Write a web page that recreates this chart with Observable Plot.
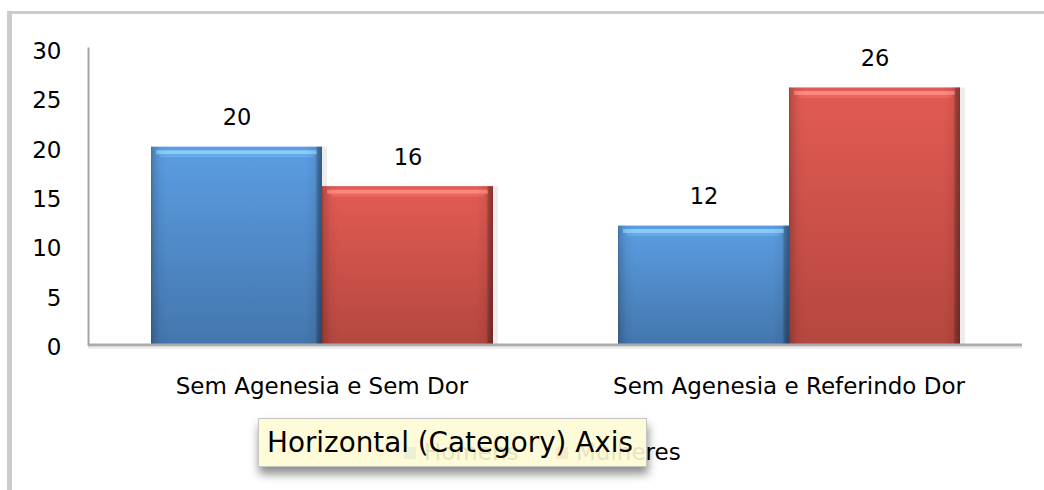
<!DOCTYPE html>
<html>
<head>
<meta charset="utf-8">
<script src="https://cdn.jsdelivr.net/npm/d3@7"></script>
<script src="https://cdn.jsdelivr.net/npm/@observablehq/plot@0.6"></script>
<style>
  html, body { margin: 0; padding: 0; background: #fff; }
  #wrap { position: relative; width: 1044px; height: 490px; overflow: hidden; font-family: "DejaVu Sans", sans-serif; }
  #frame { position: absolute; left: 7px; top: 11px; right: -10px; bottom: -10px; border-top: 3px solid #cccccc; border-left: 5px solid #cccccc; }
  #chart { position: absolute; left: 0; top: 0; }
  #legend { position: absolute; left: 0; top: 439px; width: 1044px; font-size: 23px; color: #000; }
  .item { position: absolute; top: 0; white-space: nowrap; }
  .sw { display: inline-block; width: 12px; height: 12px; margin-right: 8px; vertical-align: 1px; }
  #tip { position: absolute; left: 258px; top: 418px; width: 389px; height: 49px; background: rgba(254,252,212,0.9);
         border: 1px solid #c4c4c4; box-shadow: 1px 7px 9px rgba(0,0,0,0.45); font-size: 27.8px; color: #000;
         box-sizing: border-box; padding-left: 8px; line-height: 47px; white-space: nowrap; }
</style>
</head>
<body>
<div id="wrap">
  <div id="frame"></div>
  <div id="chart"></div>
  <div id="legend"></div>
  <div id="tip">Horizontal (Category) Axis</div>
</div>
<script>
const categories = ["Sem Agenesia e Sem Dor", "Sem Agenesia e Referindo Dor"];
const series = ["Homens", "Mulheres"];
const homens = [20, 12];
const mulheres = [16, 26];
const yTicks = [0, 5, 10, 15, 20, 25, 30];
const colors = { Homens: "#4f8bcf", Mulheres: "#d3524b" };

const data = categories.flatMap((c, i) => [
  { cat: c, sex: series[0], value: homens[i] },
  { cat: c, sex: series[1], value: mulheres[i] }
]);
const dH = data.filter(d => d.sex === "Homens");
const dM = data.filter(d => d.sex === "Mulheres");

const defs = () => {
  const ns = "http://www.w3.org/2000/svg";
  const g = document.createElementNS(ns, "defs");
  g.innerHTML = `
    <linearGradient id="gBlue" x1="0" y1="0" x2="0" y2="1">
      <stop offset="0" stop-color="#5b9ee3"/>
      <stop offset="1" stop-color="#4476ad"/>
    </linearGradient>
    <linearGradient id="gRed" x1="0" y1="0" x2="0" y2="1">
      <stop offset="0" stop-color="#e35b53"/>
      <stop offset="1" stop-color="#b5473f"/>
    </linearGradient>
    <linearGradient id="gEdge" x1="0" y1="0" x2="1" y2="0">
      <stop offset="0" stop-color="#000" stop-opacity="0.28"/>
      <stop offset="0.012" stop-color="#000" stop-opacity="0.16"/>
      <stop offset="0.05" stop-color="#000" stop-opacity="0.04"/>
      <stop offset="0.1" stop-color="#000" stop-opacity="0"/>
      <stop offset="0.9" stop-color="#000" stop-opacity="0"/>
      <stop offset="0.96" stop-color="#000" stop-opacity="0.06"/>
      <stop offset="0.975" stop-color="#000" stop-opacity="0.3"/>
      <stop offset="1" stop-color="#000" stop-opacity="0.42"/>
    </linearGradient>`;
  return g;
};

const plot = Plot.plot({
  width: 1044,
  height: 490,
  marginLeft: 87,
  marginRight: 22,
  marginTop: 48,
  marginBottom: 146,
  style: { fontFamily: "DejaVu Sans, sans-serif", fontSize: "22px", color: "#000", background: "transparent", overflow: "visible" },
  fx: { domain: categories, padding: 0, label: null },
  x: { domain: series, paddingInner: 0, paddingOuter: 0.365, axis: null },
  y: { domain: [0, 30], label: null },
  marks: [
    defs,
    Plot.barY(data, { fx: "cat", x: "sex", y: "value", fill: "#000", fillOpacity: 0.07, dx: 5 }),
    Plot.barY(dH, { fx: "cat", x: "sex", y: "value", fill: "url(#gBlue)" }),
    Plot.barY(dM, { fx: "cat", x: "sex", y: "value", fill: "url(#gRed)" }),
    Plot.tickY(dH, { fx: "cat", x: "sex", y: "value", stroke: "#8fd0fa", strokeWidth: 4, dy: 5, inset: 5, strokeOpacity: 0.9 }),
    Plot.tickY(dM, { fx: "cat", x: "sex", y: "value", stroke: "#ff8d86", strokeWidth: 4, dy: 5, inset: 5, strokeOpacity: 0.9 }),
    Plot.tickY(dH, { fx: "cat", x: "sex", y: "value", stroke: "#70b2ee", strokeWidth: 3, dy: 8.5, inset: 9, strokeOpacity: 0.6 }),
    Plot.tickY(dM, { fx: "cat", x: "sex", y: "value", stroke: "#f0706a", strokeWidth: 3, dy: 8.5, inset: 9, strokeOpacity: 0.6 }),
    Plot.barY(data, { fx: "cat", x: "sex", y: "value", fill: "url(#gEdge)" }),
    Plot.ruleY([0], { stroke: "#ababab", strokeWidth: 3, dy: 0.5 }),
    Plot.ruleY([0], { stroke: "#e6e6e6", strokeWidth: 2, dy: 3 }),
    Plot.text(data, { fx: "cat", x: "sex", y: "value", text: d => String(d.value), dy: -29, fill: "#000", fontSize: 22.5 }),
    Plot.axisY({ ticks: yTicks, tickSize: 0, tickPadding: 27, dy: 3, label: null, fill: "#000", fontSize: 23 }),
    Plot.axisFx({ anchor: "bottom", tickSize: 0, tickPadding: 33, label: null, fill: "#000", fontSize: 23 }),
    Plot.frame({ anchor: "left", stroke: "#a3a3a3", strokeWidth: 2, facetAnchor: "left" })
  ]
});
document.getElementById("chart").appendChild(plot);

const legend = document.getElementById("legend");
const legendX = { Homens: 404, Mulheres: 556 };
series.forEach(s => {
  const it = document.createElement("div");
  it.className = "item";
  it.style.left = legendX[s] + "px";
  it.innerHTML = `<span class="sw" style="background:${colors[s]}"></span>${s}`;
  legend.appendChild(it);
});
</script>
</body>
</html>
